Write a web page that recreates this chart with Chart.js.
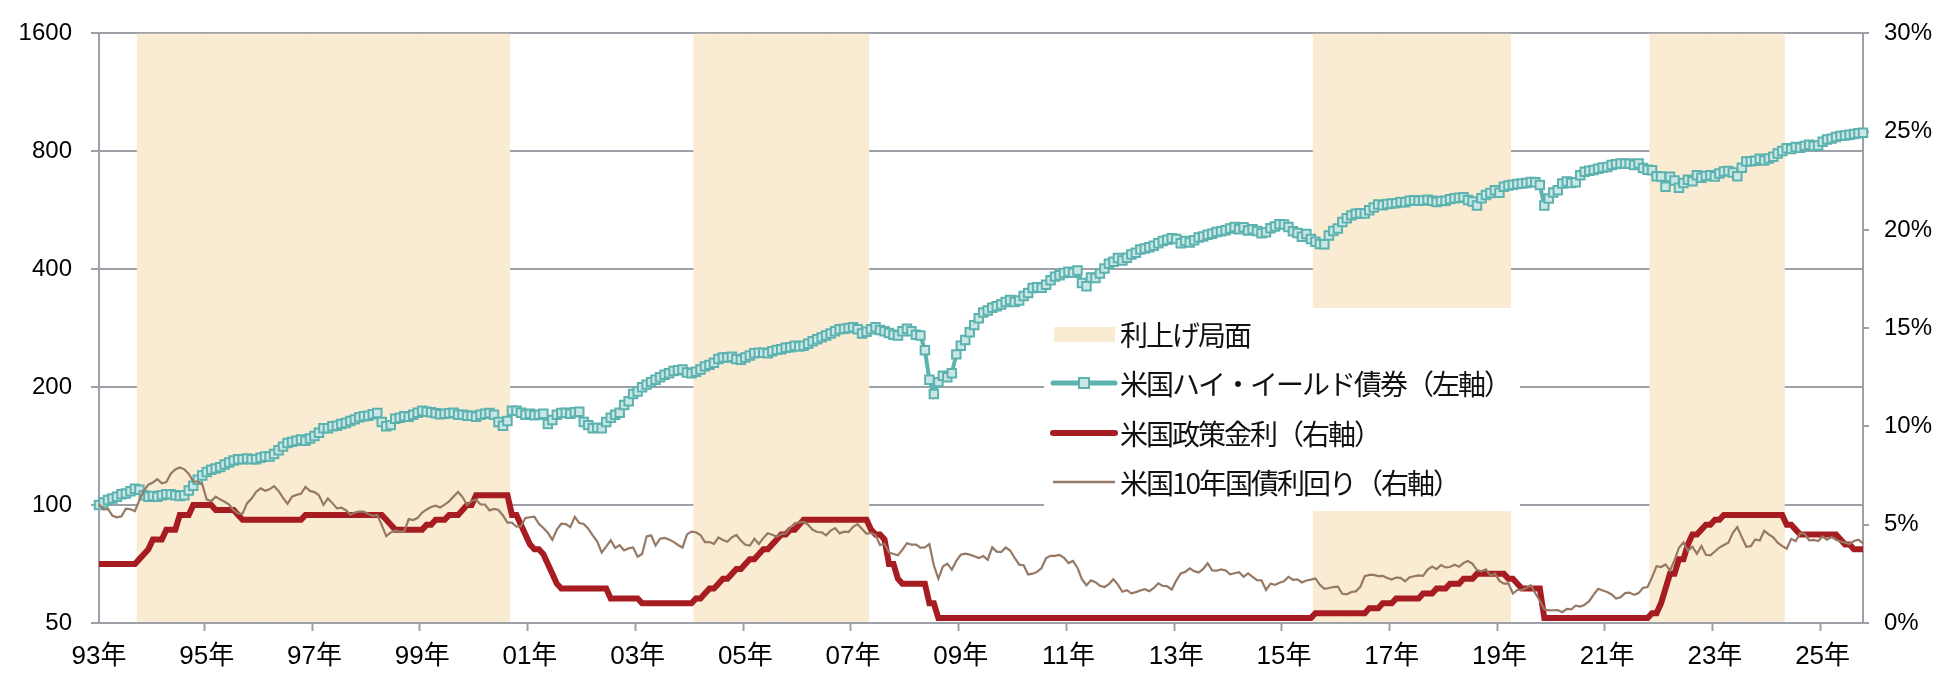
<!DOCTYPE html>
<html>
<head>
<meta charset="utf-8">
<script src="https://cdn.jsdelivr.net/npm/chart.js@4.4.1/dist/chart.umd.min.js"></script>
<style>
  html, body { margin: 0; padding: 0; background: #fff; }
</style>
</head>
<body>
<canvas id="grafico" width="1944" height="674"></canvas>
<script>
// datos mensuales desde 1993-05
const mesInicial = { anio: 1993, mes: 5 };

// 米国ハイ・イールド債券 (左軸, 1993年5月=100)
const hyIndice = [
  100,101.5,103,104,105,106.5,107,108.5,
  110,109.5,106,105,105.5,105,106,106.5,106.5,106,105.5,106,
  109,112,116,119,121.5,123,124,125,127,128.5,130,131,
  131,131.5,131,131,132,133,133,135,138,141,144,145,
  146,147,146,148,150,153,157,157,159,159.5,161,162,
  164,165.5,167.5,168.5,169,170.5,171.7,163,159,160,166,167,
  168.5,168,170,172,174,173,172.5,171.5,170.5,171,171.5,172,
  170,170,169,169,168,170,171,171.7,170,163,159.4,164,
  174,174,172,170,171,169.5,170,171,161,165,170,171.7,
  172,171,172.5,173,163,160,157,157.5,157,163,167,170,
  172,180,184,192,195,200,203,206,209,212,215,217,
  220,221,222,218,217,219,222,226,228,231,236,238,
  238,239,236,235,238,241,244,245,245,244,247,249,
  250,252,253,255,254,255,258,262,265,268,271,274,
  278,281,282,283,284.6,281,274,277,281,284.6,280,278,
  275,272,271,278,282,278,272,271,248.5,209,192,206,
  214,212,217,242.5,255,264,276,288,300,310,314,319,
  322,325,330,334,330,333,342,348,358,360,359,365,
  375,383,386,391,394,392,397,369,362,381,380,390,
  402,413,418,427.5,421,428,436,441,449,452,455,459,
  466,472,476,480,478,466,472,468,474,482,485,490,
  493,498,500,503,508,513,506,512,502,506,501,494,
  497,509,514.5,521,520,513,500,495,484,492,478,470,
  464,463,488,501,508,528,540,549,554,556,555,566,
  575,585,583,587,589,590,594,593,598,600,598,599,
  602,598,594,597,598,604,607,609,611,601,596,582,
  607,619,626,636,627,650,654,657,660,662,664,668,
  667,656,582,606,628,636,662,670,664,667,695,709,
  714,717,722,727,730,738,742,745,745,744,738,745,
  725,718,716,691,690,650,689,674,646,664,677,671,
  695,685,692,695,690,702,711,713,706,691,726,754,
  755,757,766,758,767,775,790,802,815,811,821,817,
  826,831,825,828,846,858,862,870,876,878,882,886,
  890,892
];

// 米国政策金利 (右軸, %)
const tasaPolitica = [
  3,3,3,3,3,3,3,3,
  3,3.25,3.5,3.75,4.25,4.25,4.25,4.75,4.75,4.75,5.5,5.5,
  5.5,6,6,6,6,6,5.75,5.75,5.75,5.75,5.75,5.5,
  5.25,5.25,5.25,5.25,5.25,5.25,5.25,5.25,5.25,5.25,5.25,5.25,
  5.25,5.25,5.5,5.5,5.5,5.5,5.5,5.5,5.5,5.5,5.5,5.5,
  5.5,5.5,5.5,5.5,5.5,5.5,5.5,5.5,5.25,5,4.75,4.75,
  4.75,4.75,4.75,4.75,4.75,5,5,5.25,5.25,5.25,5.5,5.5,
  5.5,5.75,6,6,6.5,6.5,6.5,6.5,6.5,6.5,6.5,6.5,
  5.5,5.5,5,4.5,4,3.75,3.75,3.5,3,2.5,2,1.75,
  1.75,1.75,1.75,1.75,1.75,1.75,1.75,1.75,1.75,1.75,1.25,1.25,
  1.25,1.25,1.25,1.25,1.25,1,1,1,1,1,1,1,
  1,1,1,1,1,1.25,1.25,1.5,1.75,1.75,2,2.25,
  2.25,2.5,2.75,2.75,3,3.25,3.25,3.5,3.75,3.75,4,4.25,
  4.5,4.5,4.75,4.75,5,5.25,5.25,5.25,5.25,5.25,5.25,5.25,
  5.25,5.25,5.25,5.25,5.25,5.25,5.25,5.25,4.75,4.5,4.5,4.25,
  3,3,2.25,2,2,2,2,2,2,1,1,0.25,
  0.25,0.25,0.25,0.25,0.25,0.25,0.25,0.25,0.25,0.25,0.25,0.25,
  0.25,0.25,0.25,0.25,0.25,0.25,0.25,0.25,0.25,0.25,0.25,0.25,
  0.25,0.25,0.25,0.25,0.25,0.25,0.25,0.25,0.25,0.25,0.25,0.25,
  0.25,0.25,0.25,0.25,0.25,0.25,0.25,0.25,0.25,0.25,0.25,0.25,
  0.25,0.25,0.25,0.25,0.25,0.25,0.25,0.25,0.25,0.25,0.25,0.25,
  0.25,0.25,0.25,0.25,0.25,0.25,0.25,0.25,0.25,0.25,0.25,0.25,
  0.25,0.25,0.25,0.25,0.25,0.25,0.25,0.25,0.25,0.25,0.25,0.5,
  0.5,0.5,0.5,0.5,0.5,0.5,0.5,0.5,0.5,0.5,0.5,0.75,
  0.75,0.75,1,1,1,1.25,1.25,1.25,1.25,1.25,1.25,1.5,
  1.5,1.5,1.75,1.75,1.75,2,2,2,2.25,2.25,2.25,2.5,
  2.5,2.5,2.5,2.5,2.5,2.5,2.25,2.25,2,1.75,1.75,1.75,
  1.75,1.75,0.25,0.25,0.25,0.25,0.25,0.25,0.25,0.25,0.25,0.25,
  0.25,0.25,0.25,0.25,0.25,0.25,0.25,0.25,0.25,0.25,0.25,0.25,
  0.25,0.25,0.5,0.5,1,1.75,2.5,2.5,3.25,3.25,4,4.5,
  4.5,4.75,5,5,5.25,5.25,5.5,5.5,5.5,5.5,5.5,5.5,
  5.5,5.5,5.5,5.5,5.5,5.5,5.5,5.5,5,5,4.75,4.5,
  4.5,4.5,4.5,4.5,4.5,4.5,4.5,4.5,4.25,4,4,3.75,
  3.75,3.75
];

// 米国10年国債利回り (右軸, %)
const bono10 = [
  6.04,5.78,5.81,5.45,5.38,5.43,5.82,5.79,
  5.70,6.25,6.74,7.04,7.15,7.32,7.11,7.17,7.60,7.81,7.91,7.82,
  7.58,7.20,7.20,7.06,6.28,6.20,6.43,6.28,6.17,6.02,5.74,5.57,
  5.58,6.10,6.33,6.67,6.85,6.73,6.80,6.96,6.72,6.37,6.06,6.43,
  6.52,6.57,6.92,6.72,6.66,6.50,6.01,6.34,6.10,5.83,5.87,5.74,
  5.51,5.62,5.67,5.67,5.55,5.45,5.49,4.98,4.42,4.61,4.71,4.65,
  4.65,5.29,5.24,5.35,5.62,5.78,5.90,5.97,5.88,6.02,6.19,6.44,
  6.67,6.41,6.00,6.21,6.27,6.03,6.03,5.73,5.80,5.75,5.47,5.11,
  5.11,4.90,4.92,5.34,5.38,5.41,5.05,4.83,4.59,4.23,4.75,5.05,
  5.03,4.88,5.40,5.09,5.04,4.80,4.46,4.14,3.59,3.89,4.21,3.82,
  3.96,3.69,3.80,3.84,3.37,3.51,4.41,4.46,3.94,4.29,4.33,4.25,
  4.13,3.97,3.84,4.51,4.65,4.62,4.48,4.12,4.12,4.03,4.35,4.22,
  4.13,4.36,4.48,4.20,3.98,3.94,4.28,4.02,4.32,4.57,4.49,4.39,
  4.52,4.55,4.85,5.07,5.12,5.14,4.99,4.74,4.63,4.61,4.46,4.70,
  4.83,4.56,4.65,4.63,4.89,5.03,4.78,4.54,4.59,4.48,3.97,4.03,
  3.59,3.51,3.45,3.73,4.06,3.99,3.99,3.83,3.85,4.01,2.93,2.25,
  2.87,3.02,2.71,3.16,3.47,3.53,3.48,3.40,3.31,3.41,3.21,3.85,
  3.63,3.61,3.84,3.69,3.31,2.97,2.94,2.47,2.51,2.60,2.80,3.30,
  3.42,3.42,3.47,3.32,3.05,3.16,2.80,2.22,1.92,2.17,2.08,1.89,
  1.83,1.98,2.23,1.95,1.59,1.67,1.51,1.57,1.65,1.72,1.62,1.78,
  2.02,1.89,1.87,1.70,2.16,2.52,2.60,2.78,2.64,2.57,2.75,3.04,
  2.67,2.66,2.73,2.67,2.48,2.53,2.58,2.35,2.52,2.35,2.18,2.17,
  1.68,2.00,1.94,2.05,2.12,2.35,2.20,2.22,2.06,2.16,2.21,2.27,
  1.94,1.74,1.78,1.83,1.85,1.49,1.46,1.58,1.61,1.84,2.38,2.45,
  2.45,2.39,2.40,2.29,2.21,2.31,2.30,2.12,2.33,2.38,2.42,2.40,
  2.72,2.87,2.74,2.95,2.83,2.85,2.96,2.86,3.05,3.15,3.01,2.69,
  2.63,2.73,2.41,2.51,2.14,2.00,2.02,1.50,1.68,1.69,1.78,1.92,
  1.51,1.13,0.70,0.64,0.65,0.66,0.55,0.72,0.69,0.88,0.84,0.93,
  1.11,1.44,1.74,1.65,1.58,1.45,1.24,1.31,1.52,1.55,1.43,1.52,
  1.79,1.83,2.32,2.89,2.85,2.98,2.67,3.19,3.83,4.10,3.68,3.88,
  3.52,3.92,3.47,3.44,3.64,3.84,3.97,4.09,4.59,4.88,4.37,3.88,
  3.91,4.25,4.20,4.69,4.51,4.36,4.09,3.91,3.78,4.28,4.17,4.57,
  4.54,4.21,4.23,4.17,4.40,4.24,4.37,4.23,4.15,4.08,4.02,4.17,
  4.24,4.05
];

// 利上げ局面 (desde - hasta)
const subidaDesde = ['1994-02', '2004-06', '2015-12', '2022-03'];
const subidaHasta = ['2000-12', '2007-08', '2019-07', '2024-08'];

const ticksIzq = [50, 100, 200, 400, 800, 1600];
const ticksDer = [0, 5, 10, 15, 20, 25, 30];

const nombres = ['利上げ局面', '米国ハイ・イールド債券（左軸）', '米国政策金利（右軸）', '米国10年国債利回り（右軸）'];

// etiquetas de meses
const etiquetas = [];
for (let i = 0; i < hyIndice.length; i++) {
  const m = mesInicial.mes - 1 + i;
  const a = mesInicial.anio + Math.floor(m / 12);
  etiquetas.push(a + '-' + String(m % 12 + 1).padStart(2, '0'));
}
const sombra = etiquetas.map(e => subidaDesde.some((d, k) => e >= d && e <= subidaHasta[k]) ? 1 : null);

const gris = 'rgb(158,161,167)';
const colorSombra = 'rgb(250,235,211)';
const colorHY = 'rgb(92,178,175)';
const colorHYfondo = 'rgb(203,231,229)';
const colorTasa = 'rgb(166,28,32)';
const colorBono = 'rgb(150,121,100)';
const fuenteEje = '"Liberation Sans", "Noto Sans CJK JP", sans-serif';
const fuenteLeyenda = '"Noto Sans CJK JP", sans-serif';

const leyenda = {
  id: 'leyenda',
  afterDatasetDraw(chart, args) {
    if (args.index !== 0) return;
    const ctx = chart.ctx;
    ctx.save();
    ctx.fillStyle = '#fff';
    ctx.fillRect(1044, 308, 476, 203);
    ctx.restore();
  },
  afterDatasetsDraw(chart) {
    const ctx = chart.ctx;
    const ys = [334, 383, 433, 482];
    const x0 = 1053, x1 = 1115, xt = 1120;
    ctx.save();
    ctx.fillStyle = colorSombra;
    ctx.fillRect(1054, 327, 61, 15);

    ctx.lineCap = 'round';
    ctx.strokeStyle = colorHY; ctx.lineWidth = 5;
    ctx.beginPath(); ctx.moveTo(x0, ys[1]); ctx.lineTo(x1, ys[1]); ctx.stroke();
    ctx.fillStyle = colorHYfondo; ctx.lineWidth = 2;
    ctx.fillRect(1079, ys[1] - 5, 10, 10);
    ctx.strokeRect(1079, ys[1] - 5, 10, 10);

    ctx.strokeStyle = colorTasa; ctx.lineWidth = 6;
    ctx.beginPath(); ctx.moveTo(x0, ys[2]); ctx.lineTo(x1, ys[2]); ctx.stroke();

    ctx.lineCap = 'butt';
    ctx.strokeStyle = colorBono; ctx.lineWidth = 2.5;
    ctx.beginPath(); ctx.moveTo(x0, ys[3]); ctx.lineTo(x1, ys[3]); ctx.stroke();

    ctx.fillStyle = '#111';
    ctx.font = '28px ' + fuenteLeyenda;
    if ('letterSpacing' in ctx) ctx.letterSpacing = '-2px';
    ctx.textBaseline = 'middle';
    nombres.forEach((t, i) => ctx.fillText(t, xt, ys[i] + 1));
    ctx.restore();
  }
};

const grafico = new Chart(document.getElementById('grafico').getContext('2d'), {
  data: {
    labels: etiquetas,
    datasets: [
      {
        type: 'bar',
        label: nombres[0],
        data: sombra,
        yAxisID: 'ySombra',
        backgroundColor: colorSombra,
        borderWidth: 0,
        barPercentage: 1.15,
        categoryPercentage: 1,
        order: 4
      },
      {
        type: 'line',
        label: nombres[1],
        data: hyIndice,
        yAxisID: 'yIzq',
        borderColor: colorHY,
        borderWidth: 4,
        pointStyle: 'rect',
        pointRadius: 6,
        pointBorderWidth: 2,
        pointBorderColor: colorHY,
        pointBackgroundColor: colorHYfondo,
        tension: 0,
        order: 3
      },
      {
        type: 'line',
        label: nombres[2],
        data: tasaPolitica,
        yAxisID: 'yDer',
        borderColor: colorTasa,
        borderWidth: 6,
        pointRadius: 0,
        tension: 0,
        order: 2
      },
      {
        type: 'line',
        label: nombres[3],
        data: bono10,
        yAxisID: 'yDer',
        borderColor: colorBono,
        borderWidth: 2.2,
        pointRadius: 0,
        tension: 0,
        order: 1
      }
    ]
  },
  options: {
    responsive: false,
    animation: false,
    layout: { padding: { top: 20, left: 0, right: 0, bottom: 0 } },
    plugins: { legend: { display: false }, tooltip: { enabled: false } },
    scales: {
      x: {
        type: 'category',
        offset: false,
        afterFit: s => { s.height = 51; },
        grid: {
          drawOnChartArea: false,
          drawTicks: true,
          tickLength: 8,
          tickWidth: 2,
          tickColor: c => (c.index % 24 === 0 ? gris : 'rgba(0,0,0,0)')
        },
        border: { display: true, color: gris, width: 2, z: 1 },
        ticks: {
          autoSkip: false,
          maxRotation: 0,
          minRotation: 0,
          padding: 10,
          color: '#000',
          font: { size: 26, family: fuenteEje },
          callback: (v, i) => (i % 24 === 0 ? etiquetas[i].slice(2, 4) + '年' : '')
        }
      },
      yIzq: {
        type: 'logarithmic',
        position: 'left',
        min: 50,
        max: 1600,
        afterBuildTicks: s => { s.ticks = ticksIzq.map(v => ({ value: v })); },
        afterFit: s => { s.width = 99; },
        grid: { color: gris, lineWidth: 2, tickLength: 8 },
        border: { display: true, color: gris, width: 2 },
        ticks: {
          padding: 19,
          color: '#000',
          font: { size: 24, family: fuenteEje },
          callback: v => String(v)
        }
      },
      yDer: {
        type: 'linear',
        position: 'right',
        min: 0,
        max: 30,
        afterBuildTicks: s => { s.ticks = ticksDer.map(v => ({ value: v })); },
        afterFit: s => { s.width = 81; },
        grid: { drawOnChartArea: false, color: gris, lineWidth: 2, tickLength: 6 },
        border: { display: true, color: gris, width: 2 },
        ticks: {
          padding: 15,
          color: '#000',
          font: { size: 24, family: fuenteEje },
          callback: v => v + '%'
        }
      },
      ySombra: {
        type: 'linear',
        display: false,
        min: 0,
        max: 1
      }
    }
  },
  plugins: [leyenda]
});
</script>
</body>
</html>
